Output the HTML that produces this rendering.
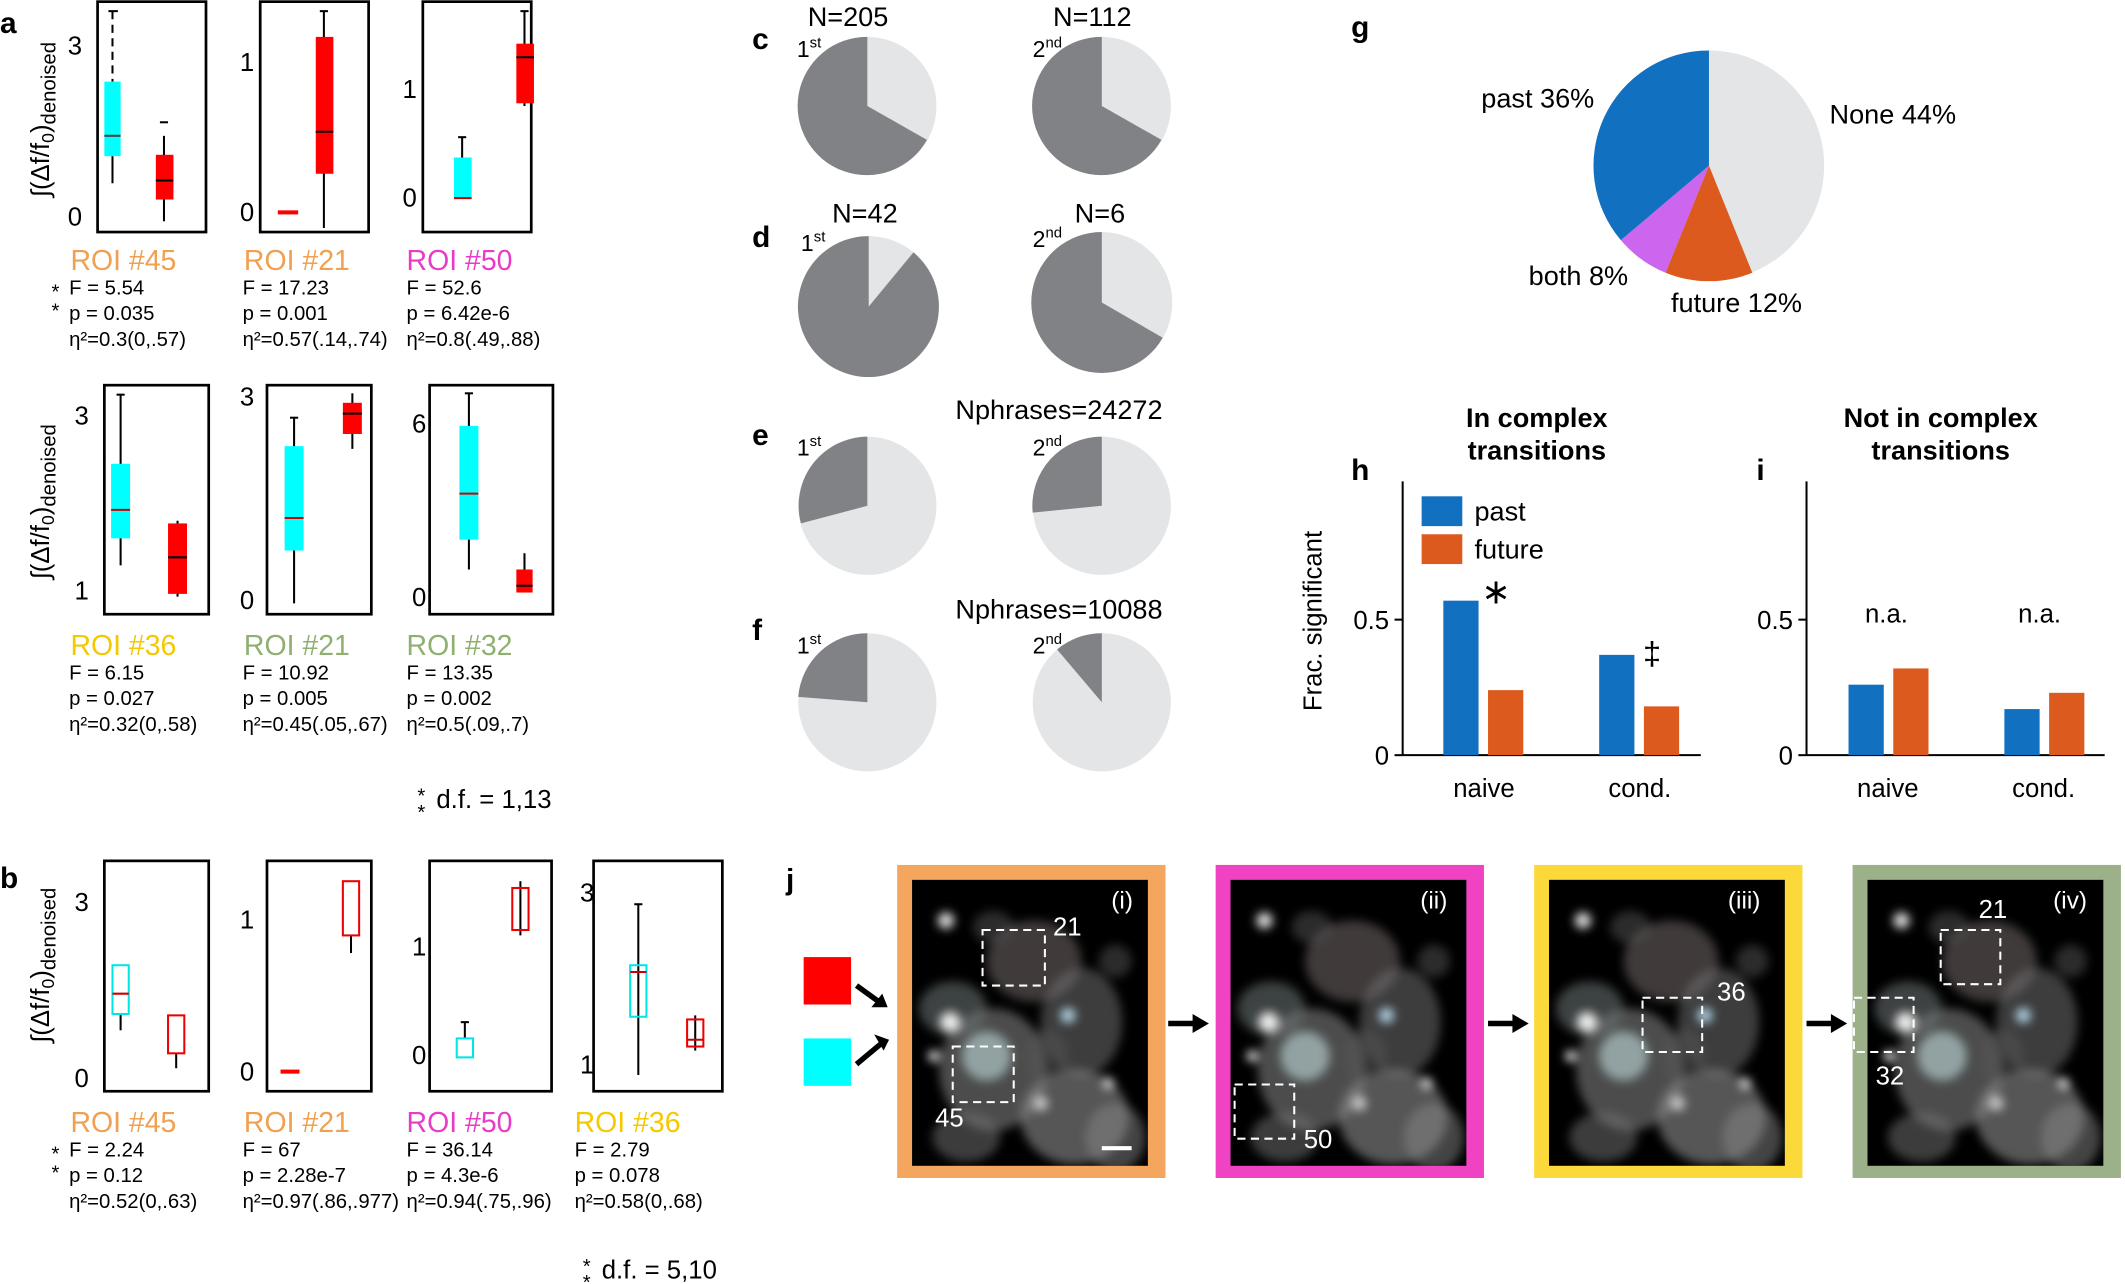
<!DOCTYPE html>
<html><head><meta charset="utf-8"><style>
html,body{margin:0;padding:0;background:#fff;}
svg{display:block;}
text{font-family:"Liberation Sans",Arial,sans-serif;}
</style></head><body>
<svg width="2125" height="1284" viewBox="0 0 1568 947" xmlns="http://www.w3.org/2000/svg">
<defs>
<filter id="bl" x="-20%" y="-20%" width="140%" height="140%"><feGaussianBlur stdDeviation="3.5"/></filter>
<clipPath id="c1"><rect x="0" y="0" width="174" height="211"/></clipPath>
<g id="cloud">
 <g filter="url(#bl)">
 <ellipse cx="60" cy="140" rx="40" ry="45" fill="#8a8a8a" opacity="0.55"/>
 <ellipse cx="55" cy="130" rx="18" ry="18" fill="#b0c8c8" opacity="0.7"/>
 <ellipse cx="90" cy="60" rx="35" ry="30" fill="#6a6060" opacity="0.6"/>
 <ellipse cx="125" cy="105" rx="30" ry="40" fill="#707070" opacity="0.55"/>
 <ellipse cx="120" cy="175" rx="40" ry="35" fill="#909090" opacity="0.6"/>
 <ellipse cx="30" cy="95" rx="25" ry="20" fill="#707878" opacity="0.55"/>
 <ellipse cx="150" cy="190" rx="22" ry="25" fill="#888" opacity="0.5"/>
 <ellipse cx="40" cy="190" rx="25" ry="18" fill="#777" opacity="0.5"/>
 <ellipse cx="100" cy="130" rx="15" ry="20" fill="#555" opacity="0.5"/>
 <ellipse cx="150" cy="60" rx="12" ry="12" fill="#555" opacity="0.5"/>
 <ellipse cx="60" cy="35" rx="15" ry="12" fill="#555" opacity="0.5"/>
 <circle cx="25" cy="30" r="6" fill="#ddd"/>
 <circle cx="28" cy="105" r="7" fill="#eee"/>
 <circle cx="16" cy="130" r="4" fill="#eee"/>
 <circle cx="115" cy="100" r="5" fill="#bde"/>
 <circle cx="145" cy="150" r="4" fill="#ddd"/>
 <circle cx="95" cy="165" r="5" fill="#ccc"/>
 </g>
</g>
</defs>
<g font-size="17" fill="#000">
<!-- panel a -->
<text x="0" y="24" font-size="22" font-weight="bold">a</text>
<text x="0" y="655" font-size="22" font-weight="bold">b</text>
<g font-size="19">
<text transform="translate(36,88) rotate(-90)" text-anchor="middle">∫(Δf/f<tspan font-size="13" dy="4">0</tspan><tspan dy="-4">)</tspan><tspan font-size="15" dy="5">denoised</tspan></text>
<text transform="translate(36,370) rotate(-90)" text-anchor="middle">∫(Δf/f<tspan font-size="13" dy="4">0</tspan><tspan dy="-4">)</tspan><tspan font-size="15" dy="5">denoised</tspan></text>
<text transform="translate(36,712) rotate(-90)" text-anchor="middle">∫(Δf/f<tspan font-size="13" dy="4">0</tspan><tspan dy="-4">)</tspan><tspan font-size="15" dy="5">denoised</tspan></text>
</g>
<g fill="none" stroke="#000" stroke-width="2">
<rect x="72" y="1" width="80" height="170"/>
<rect x="192" y="1" width="80" height="170"/>
<rect x="312" y="1" width="80" height="170"/>
<rect x="77" y="284" width="77" height="169"/>
<rect x="197" y="284" width="77" height="169"/>
<rect x="317" y="284" width="91" height="169"/>
<rect x="77" y="635" width="77" height="170"/>
<rect x="197" y="635" width="77" height="170"/>
<rect x="317" y="635" width="90" height="170"/>
<rect x="438" y="635" width="95" height="170"/>
</g>
<g font-size="19">
<text x="50" y="40">3</text><text x="50" y="166">0</text>
<text x="177" y="52">1</text><text x="177" y="163">0</text>
<text x="297" y="72">1</text><text x="297" y="152">0</text>
<text x="55" y="313">3</text><text x="55" y="442">1</text>
<text x="177" y="299">3</text><text x="177" y="449">0</text>
<text x="304" y="319">6</text><text x="304" y="447">0</text>
<text x="55" y="672">3</text><text x="55" y="802">0</text>
<text x="177" y="685">1</text><text x="177" y="797">0</text>
<text x="304" y="705">1</text><text x="304" y="785">0</text>
<text x="428" y="665">3</text><text x="428" y="792">1</text>
</g>
<g stroke="#000" stroke-width="1.5">
<line x1="83" y1="8" x2="83" y2="60" stroke-dasharray="6,4"/><line x1="83" y1="115" x2="83" y2="135"/><line x1="80" y1="8" x2="87" y2="8"/>
<rect x="77" y="60" width="12" height="55" fill="#00ffff" stroke="none"/><line x1="77" y1="100" x2="89" y2="100" stroke="#444"/>
<line x1="121" y1="100" x2="121" y2="163"/><line x1="118" y1="90" x2="124" y2="90"/>
<rect x="115" y="114" width="13" height="33" fill="#f00" stroke="none"/><line x1="115" y1="133" x2="128" y2="133"/>
<rect x="205" y="155" width="15" height="3" fill="#f00" stroke="none"/>
<line x1="239" y1="8" x2="239" y2="168"/><line x1="236" y1="8" x2="242" y2="8"/>
<rect x="233" y="27" width="13" height="101" fill="#f00" stroke="none"/><line x1="233" y1="97" x2="246" y2="97"/>
<rect x="335" y="116" width="13" height="30" fill="#00ffff" stroke="none"/><line x1="341" y1="101" x2="341" y2="116"/><line x1="338" y1="101" x2="344" y2="101"/><line x1="335" y1="146" x2="348" y2="146" stroke="#c00"/>
<line x1="387" y1="8" x2="387" y2="78"/><line x1="384" y1="8" x2="390" y2="8"/>
<rect x="381" y="32" width="13" height="44" fill="#f00" stroke="none"/><line x1="381" y1="42" x2="394" y2="42"/>
<line x1="89" y1="291" x2="89" y2="417"/><line x1="86" y1="291" x2="92" y2="291"/>
<rect x="82" y="342" width="14" height="55" fill="#00ffff" stroke="none"/><line x1="82" y1="376" x2="96" y2="376" stroke="#c00"/>
<line x1="131" y1="384" x2="131" y2="440"/>
<rect x="124" y="386" width="14" height="52" fill="#f00" stroke="none"/><line x1="124" y1="411" x2="138" y2="411"/>
<line x1="217" y1="308" x2="217" y2="445"/><line x1="214" y1="308" x2="220" y2="308"/>
<rect x="210" y="329" width="14" height="77" fill="#00ffff" stroke="none"/><line x1="210" y1="382" x2="224" y2="382" stroke="#c00"/>
<line x1="260" y1="290" x2="260" y2="331"/>
<rect x="253" y="297" width="14" height="23" fill="#f00" stroke="none"/><line x1="253" y1="305" x2="267" y2="305"/>
<line x1="346" y1="290" x2="346" y2="420"/><line x1="343" y1="290" x2="349" y2="290"/>
<rect x="339" y="314" width="14" height="84" fill="#00ffff" stroke="none"/><line x1="339" y1="364" x2="353" y2="364" stroke="#c00"/>
<line x1="387" y1="408" x2="387" y2="437"/>
<rect x="381" y="420" width="12" height="17" fill="#f00" stroke="none"/><line x1="381" y1="432" x2="393" y2="432"/>
<line x1="89" y1="748" x2="89" y2="760"/><rect x="83" y="712" width="12" height="36" fill="none" stroke="#00e5e5"/><line x1="83" y1="733" x2="95" y2="733" stroke="#c00"/>
<line x1="130" y1="777" x2="130" y2="788"/><rect x="124" y="749" width="12" height="28" fill="none" stroke="#e00"/>
<rect x="207" y="789" width="14" height="3" fill="#f00" stroke="none"/>
<line x1="259" y1="690" x2="259" y2="703"/><rect x="253" y="650" width="12" height="40" fill="none" stroke="#e00"/>
<line x1="343" y1="754" x2="343" y2="766"/><line x1="340" y1="754" x2="346" y2="754"/><rect x="337" y="766" width="12" height="14" fill="none" stroke="#00e5e5"/>
<line x1="384" y1="650" x2="384" y2="690"/><rect x="378" y="655" width="12" height="31" fill="none" stroke="#e00"/>
<line x1="471" y1="667" x2="471" y2="793"/><line x1="468" y1="667" x2="474" y2="667"/><rect x="465" y="712" width="12" height="38" fill="none" stroke="#00e5e5"/><line x1="465" y1="717" x2="477" y2="717" stroke="#c00"/>
<line x1="513" y1="749" x2="513" y2="775"/><rect x="507" y="752" width="12" height="20" fill="none" stroke="#e00"/><line x1="507" y1="767" x2="519" y2="767" stroke="#c00"/>
</g>
<g font-size="21">
<text x="52" y="199" fill="#f0a050">ROI #45</text>
<text x="180" y="199" fill="#f0a050">ROI #21</text>
<text x="300" y="199" fill="#e83cc8">ROI #50</text>
<text x="52" y="483" fill="#f5c800">ROI #36</text>
<text x="180" y="483" fill="#8fb070">ROI #21</text>
<text x="300" y="483" fill="#8fb070">ROI #32</text>
<text x="52" y="835" fill="#f0a050">ROI #45</text>
<text x="180" y="835" fill="#f0a050">ROI #21</text>
<text x="300" y="835" fill="#e83cc8">ROI #50</text>
<text x="424" y="835" fill="#f5c800">ROI #36</text>
</g>
<g font-size="15">
<text x="38" y="220">*</text><text x="38" y="234">*</text>
<text x="51" y="217">F = 5.54</text><text x="51" y="236">p = 0.035</text><text x="51" y="255">η²=0.3(0,.57)</text>
<text x="179" y="217">F = 17.23</text><text x="179" y="236">p = 0.001</text><text x="179" y="255">η²=0.57(.14,.74)</text>
<text x="300" y="217">F = 52.6</text><text x="300" y="236">p = 6.42e-6</text><text x="300" y="255">η²=0.8(.49,.88)</text>
<text x="51" y="501">F = 6.15</text><text x="51" y="520">p = 0.027</text><text x="51" y="539">η²=0.32(0,.58)</text>
<text x="179" y="501">F = 10.92</text><text x="179" y="520">p = 0.005</text><text x="179" y="539">η²=0.45(.05,.67)</text>
<text x="300" y="501">F = 13.35</text><text x="300" y="520">p = 0.002</text><text x="300" y="539">η²=0.5(.09,.7)</text>
<text x="38" y="856">*</text><text x="38" y="870">*</text>
<text x="51" y="853">F = 2.24</text><text x="51" y="872">p = 0.12</text><text x="51" y="891">η²=0.52(0,.63)</text>
<text x="179" y="853">F = 67</text><text x="179" y="872">p = 2.28e-7</text><text x="179" y="891">η²=0.97(.86,.977)</text>
<text x="300" y="853">F = 36.14</text><text x="300" y="872">p = 4.3e-6</text><text x="300" y="891">η²=0.94(.75,.96)</text>
<text x="424" y="853">F = 2.79</text><text x="424" y="872">p = 0.078</text><text x="424" y="891">η²=0.58(0,.68)</text>
</g>
<text x="308" y="592" font-size="15">*</text><text x="308" y="604" font-size="15">*</text><text x="322" y="596" font-size="19">d.f. = 1,13</text>
<text x="430" y="939" font-size="15">*</text><text x="430" y="951" font-size="15">*</text><text x="444" y="943" font-size="19">d.f. = 5,10</text>

<!-- pies c-f -->
<circle cx="640" cy="78" r="51" fill="#e4e5e6"/>
<path d="M640,78 L684,103 A51,51 0 1,1 640,27 Z" fill="#808285"/>
<circle cx="813" cy="78" r="51" fill="#e4e5e6"/>
<path d="M813,78 L857,103 A51,51 0 1,1 813,27 Z" fill="#808285"/>
<circle cx="641" cy="226" r="52" fill="#e4e5e6"/>
<path d="M641,226 L674,186 A52,52 0 1,1 641,174 Z" fill="#808285"/>
<circle cx="813" cy="223" r="52" fill="#e4e5e6"/>
<path d="M813,223 L858,249 A52,52 0 1,1 813,171 Z" fill="#808285"/>
<circle cx="640" cy="373" r="51" fill="#e4e5e6"/>
<path d="M640,373 L591,386 A51,51 0 0,1 640,322 Z" fill="#808285"/>
<circle cx="813" cy="373" r="51" fill="#e4e5e6"/>
<path d="M813,373 L762,378 A51,51 0 0,1 813,322 Z" fill="#808285"/>
<circle cx="640" cy="518" r="51" fill="#e4e5e6"/>
<path d="M640,518 L589,514 A51,51 0 0,1 640,467 Z" fill="#808285"/>
<circle cx="813" cy="518" r="51" fill="#e4e5e6"/>
<path d="M813,518 L780,479 A51,51 0 0,1 813,467 Z" fill="#808285"/>
<g font-size="22" font-weight="bold">
<text x="555" y="36">c</text><text x="555" y="182">d</text><text x="555" y="328">e</text><text x="555" y="472">f</text>
</g>
<g font-size="20">
<text x="596" y="19">N=205</text><text x="777" y="19">N=112</text>
<text x="614" y="164">N=42</text><text x="793" y="164">N=6</text>
<text x="705" y="309">Nphrases=24272</text>
<text x="705" y="456">Nphrases=10088</text>
</g>
<g font-size="17">
<text x="588" y="42">1<tspan font-size="11" dy="-7">st</tspan></text><text x="762" y="42">2<tspan font-size="11" dy="-7">nd</tspan></text>
<text x="591" y="185">1<tspan font-size="11" dy="-7">st</tspan></text><text x="762" y="182">2<tspan font-size="11" dy="-7">nd</tspan></text>
<text x="588" y="336">1<tspan font-size="11" dy="-7">st</tspan></text><text x="762" y="336">2<tspan font-size="11" dy="-7">nd</tspan></text>
<text x="588" y="482">1<tspan font-size="11" dy="-7">st</tspan></text><text x="762" y="482">2<tspan font-size="11" dy="-7">nd</tspan></text>
</g>

<!-- g -->
<text x="997" y="27" font-size="22" font-weight="bold">g</text>
<circle cx="1261" cy="122" r="85" fill="#e4e5e6"/>
<path d="M1261,122 L1293,201 A85,85 0 0,1 1229,201 Z" fill="#dc5a1e"/>
<path d="M1261,122 L1229,201 A85,85 0 0,1 1196,177 Z" fill="#cc66ee"/>
<path d="M1261,122 L1196,177 A85,85 0 0,1 1261,37 Z" fill="#1170c0"/>
<g font-size="20">
<text x="1093" y="79">past 36%</text><text x="1350" y="91">None 44%</text>
<text x="1128" y="210">both 8%</text><text x="1233" y="230">future 12%</text>
</g>

<!-- h/i -->
<g font-size="20" font-weight="bold">
<text x="1134" y="315" text-anchor="middle">In complex</text><text x="1134" y="339" text-anchor="middle">transitions</text>
<text x="1432" y="315" text-anchor="middle">Not in complex</text><text x="1432" y="339" text-anchor="middle">transitions</text>
</g>
<text x="997" y="354" font-size="22" font-weight="bold">h</text>
<text x="1296" y="354" font-size="22" font-weight="bold">i</text>
<text transform="translate(975,458) rotate(-90)" font-size="19" text-anchor="middle">Frac. significant</text>
<g stroke="#000" stroke-width="1.5">
<line x1="1035" y1="355" x2="1035" y2="557"/><line x1="1035" y1="557" x2="1255" y2="557"/>
<line x1="1029" y1="457" x2="1035" y2="457"/><line x1="1029" y1="557" x2="1035" y2="557"/>
<line x1="1333" y1="355" x2="1333" y2="557"/><line x1="1333" y1="557" x2="1553" y2="557"/>
<line x1="1327" y1="457" x2="1333" y2="457"/><line x1="1327" y1="557" x2="1333" y2="557"/>
</g>
<g font-size="19">
<text x="1025" y="464" text-anchor="end">0.5</text><text x="1025" y="564" text-anchor="end">0</text>
<text x="1323" y="464" text-anchor="end">0.5</text><text x="1323" y="564" text-anchor="end">0</text>
<text x="1095" y="588" text-anchor="middle">naive</text><text x="1210" y="588" text-anchor="middle">cond.</text>
<text x="1393" y="588" text-anchor="middle">naive</text><text x="1508" y="588" text-anchor="middle">cond.</text>
<text x="1392" y="459" text-anchor="middle">n.a.</text><text x="1505" y="459" text-anchor="middle">n.a.</text>
</g>
<rect x="1049" y="366" width="30" height="22" fill="#1170c0"/><text x="1088" y="384" font-size="20">past</text>
<rect x="1049" y="394" width="30" height="22" fill="#dc5a1e"/><text x="1088" y="412" font-size="20">future</text>
<text x="1104" y="445" font-size="26" text-anchor="middle">∗</text>
<text x="1219" y="490" font-size="24" text-anchor="middle">‡</text>
<rect x="1065" y="443" width="26" height="114" fill="#1170c0"/>
<rect x="1098" y="509" width="26" height="48" fill="#dc5a1e"/>
<rect x="1180" y="483" width="26" height="74" fill="#1170c0"/>
<rect x="1213" y="521" width="26" height="36" fill="#dc5a1e"/>
<rect x="1364" y="505" width="26" height="52" fill="#1170c0"/>
<rect x="1397" y="493" width="26" height="64" fill="#dc5a1e"/>
<rect x="1479" y="523" width="26" height="34" fill="#1170c0"/>
<rect x="1512" y="511" width="26" height="46" fill="#dc5a1e"/>

<!-- j -->
<text x="580" y="656" font-size="22" font-weight="bold">j</text>
<rect x="593" y="706" width="35" height="35" fill="#ff0000"/>
<rect x="593" y="766" width="35" height="35" fill="#00ffff"/>
<g stroke="#000" stroke-width="4"><line x1="632" y1="727" x2="650" y2="740"/><line x1="632" y1="785" x2="650" y2="770"/></g>
<path d="M655,743 L643,743 L651,733 Z" fill="#000"/><path d="M656,767 L645,763 L652,775 Z" fill="#000"/>

<rect x="662" y="638" width="198" height="231" fill="#f5a65e"/>
<rect x="673" y="649" width="174" height="211" fill="#000"/>
<g transform="translate(673,649)" clip-path="url(#c1)"><use href="#cloud"/></g>
<rect x="725" y="686" width="46" height="41" fill="none" stroke="#fff" stroke-dasharray="6,4" stroke-width="1.5"/>
<rect x="703" y="772" width="45" height="41" fill="none" stroke="#fff" stroke-dasharray="6,4" stroke-width="1.5"/>
<text x="777" y="690" font-size="19" fill="#fff">21</text><text x="690" y="831" font-size="19" fill="#fff">45</text>
<text x="820" y="670" font-size="18" fill="#fff">(i)</text>
<line x1="813" y1="847" x2="835" y2="847" stroke="#fff" stroke-width="3"/>

<rect x="897" y="638" width="198" height="231" fill="#f043c3"/>
<rect x="908" y="649" width="174" height="211" fill="#000"/>
<g transform="translate(908,649)" clip-path="url(#c1)"><use href="#cloud"/></g>
<rect x="911" y="800" width="44" height="40" fill="none" stroke="#fff" stroke-dasharray="6,4" stroke-width="1.5"/>
<text x="962" y="847" font-size="19" fill="#fff">50</text><text x="1048" y="670" font-size="18" fill="#fff">(ii)</text>

<rect x="1132" y="638" width="198" height="231" fill="#fbd93a"/>
<rect x="1143" y="649" width="174" height="211" fill="#000"/>
<g transform="translate(1143,649)" clip-path="url(#c1)"><use href="#cloud"/></g>
<rect x="1212" y="736" width="44" height="40" fill="none" stroke="#fff" stroke-dasharray="6,4" stroke-width="1.5"/>
<text x="1267" y="738" font-size="19" fill="#fff">36</text><text x="1275" y="670" font-size="18" fill="#fff">(iii)</text>

<rect x="1367" y="638" width="198" height="231" fill="#9cb08a"/>
<rect x="1378" y="649" width="174" height="211" fill="#000"/>
<g transform="translate(1378,649)" clip-path="url(#c1)"><use href="#cloud"/></g>
<rect x="1432" y="686" width="44" height="40" fill="none" stroke="#fff" stroke-dasharray="6,4" stroke-width="1.5"/>
<rect x="1368" y="736" width="44" height="40" fill="none" stroke="#fff" stroke-dasharray="6,4" stroke-width="1.5"/>
<text x="1460" y="677" font-size="19" fill="#fff">21</text><text x="1384" y="800" font-size="19" fill="#fff">32</text>
<text x="1515" y="670" font-size="18" fill="#fff">(iv)</text>
<g stroke="#000" stroke-width="4">
<line x1="862" y1="755" x2="882" y2="755"/><line x1="1098" y1="755" x2="1118" y2="755"/><line x1="1333" y1="755" x2="1353" y2="755"/>
</g>
<path d="M892,755 L880,748 L880,762 Z M1128,755 L1116,748 L1116,762 Z M1363,755 L1351,748 L1351,762 Z" fill="#000"/>
</g>
</svg>
</body></html>
